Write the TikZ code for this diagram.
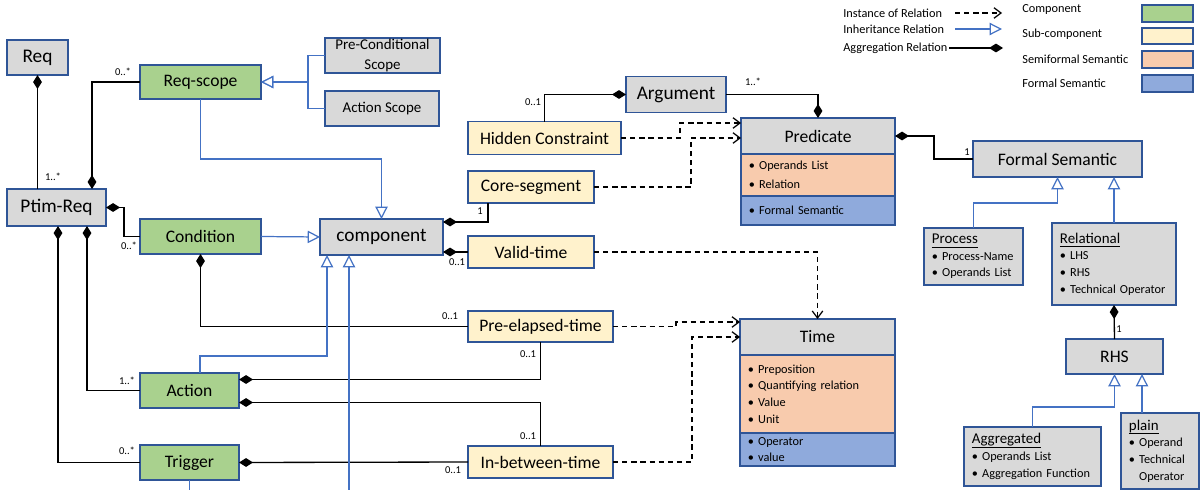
\documentclass[tikz,border=0pt]{standalone}
\usepackage{fontspec}
\setmainfont{Carlito}
\usetikzlibrary{arrows.meta,positioning,calc}
\definecolor{compgreen}{HTML}{A9D18E}
\definecolor{subyellow}{HTML}{FFF2CC}
\definecolor{semiorange}{HTML}{F8CBAD}
\definecolor{formblue}{HTML}{8FAADC}
\definecolor{boxgray}{HTML}{D9D9D9}
\definecolor{edgeblue}{HTML}{2F5597}
\definecolor{inhblue}{HTML}{4472C4}
\tikzset{
  wh/.style 2 args={minimum width=#1*0.02cm,minimum height=#2*0.02cm},
  lw/.style={text width=#1*0.02cm-9pt},
  box/.style={draw=edgeblue,line width=0.9pt,inner sep=2pt,outer sep=0pt,
    font=\fontsize{10}{12}\selectfont},
  comp/.style={box,fill=compgreen},
  sub/.style={box,fill=subyellow},
  gbox/.style={box,fill=boxgray},
  big/.style={font=\fontsize{11}{13}\selectfont},
  lst/.style={align=left,inner xsep=4.5pt,inner ysep=1pt,font=\fontsize{7}{9.5}\selectfont},
  semi/.style={box,fill=semiorange,lst},
  formal/.style={box,fill=formblue,lst},
  hd/.style={font=\fontsize{8.5}{10}\selectfont},
  mult/.style={font=\fontsize{6}{7}\selectfont,inner sep=0pt},
  legtxt/.style={font=\fontsize{7}{8}\selectfont,anchor=west,inner sep=0pt},
  agg/.style={draw,line width=0.75pt,{Diamond[length=8pt,width=5pt]}-},
  inh/.style={draw=inhblue,line width=0.7pt,-{Triangle[open,length=7pt,width=7pt,fill=white]}},
  inhline/.style={draw=inhblue,line width=0.7pt},
  inst/.style={draw,line width=0.7pt,dash pattern=on 3pt off 2.2pt,
    -{Straight Barb[length=4pt,width=6pt]}},
}
% underlined class header, rule at a fixed depth
\newsavebox{\hdrbox}
\newcommand{\hdr}[1]{\sbox{\hdrbox}{\fontsize{8.5}{10}\selectfont #1}%
  \rlap{\rule[-2.2pt]{\wd\hdrbox}{0.5pt}}\usebox{\hdrbox}}
\begin{document}
\begin{tikzpicture}[x=0.02cm,y=-0.02cm]
  \useasboundingbox (0,0) rectangle (1200,490);
  % legend
  \node[legtxt] (lg-inst) at (843,13) {Instance of Relation};
  \node[legtxt] (lg-inh) at (843,29) {Inheritance Relation};
  \node[legtxt] (lg-agg) at (843,48) {Aggregation Relation};
  \draw[inst] (955,13) -- (1002,13);
  \draw[inh] (955,29) -- (1002,29);
  \draw[agg] (1003,48) -- (949,48);
  \node[legtxt] (lg-c) at (1022,10) {Component};
  \node[legtxt] (lg-s) at (1022,34) {Sub-component};
  \node[legtxt] (lg-sf) at (1022,59) {Semiformal Semantic};
  \node[legtxt] (lg-f) at (1022,83) {Formal Semantic};
  \node[comp,wh={51}{17}] (sw-c) at (1167.5,13.5) {};
  \node[sub,wh={51}{16}] (sw-s) at (1167.5,36) {};
  \node[semi,wh={51}{17}] (sw-sf) at (1167.5,59.5) {};
  \node[formal,wh={51}{17}] (sw-f) at (1167.5,83.5) {};

  % requirement side
  \node[gbox,big,wh={61}{35}] (req) at (37.5,57.5) {Req};
  \node[gbox,big,wh={99}{37}] (ptim) at (56.5,207.5) {Ptim-Req};
  \node[comp,wh={121}{34}] (reqscope) at (200.5,82) {Req-scope};
  \node[gbox,hd,wh={115}{35},align=center,inner ysep=0pt,
    font=\fontsize{8.5}{11}\selectfont] (precond) at (382.5,55.5) {Pre-Conditional\\Scope};
  \node[gbox,wh={114}{35},font=\fontsize{8.5}{10}\selectfont] (actscope) at (382,108.5) {Action Scope};
  \node[comp,wh={121}{35}] (cond) at (200.5,236.5) {Condition};
  \node[gbox,big,wh={123}{36}] (component) at (381.5,237) {component};
  \node[comp,wh={99}{35}] (action) at (189.5,390.5) {Action};
  \node[comp,wh={99}{35}] (trigger) at (189.5,462.5) {Trigger};

  % sub-components
  \node[gbox,big,wh={100}{36}] (argument) at (676,94.5) {Argument};
  \node[sub,wh={153}{33}] (hidden) at (544.5,138) {Hidden Constraint};
  \node[sub,wh={126}{32}] (core) at (531,187) {Core-segment};
  \node[sub,wh={126}{32}] (valid) at (531,252) {Valid-time};
  \node[sub,wh={145}{31}] (preel) at (540.5,326.5) {Pre-elapsed-time};
  \node[sub,wh={145}{32}] (inbt) at (540.5,462) {In-between-time};

  % predicate and time classes
  \node[gbox,wh={154}{36}] (pred) at (818,136) {Predicate};
  \node[semi,wh={154}{42},lw=154,below=0pt of pred] (pred-s)
    {\textbullet\ Operands List\\[1.6pt] \textbullet\ Relation};
  \node[formal,wh={154}{29},lw=154,below=0pt of pred-s] (pred-f)
    {\textbullet\ Formal Semantic};
  \node[gbox,wh={155}{36}] (time) at (817.5,337) {Time};
  \node[semi,wh={155}{78},lw=155,below=0pt of time] (time-s)
    {\textbullet\ Preposition\\ \textbullet\ Quantifying relation\\ \textbullet\ Value\\ \textbullet\ Unit};
  \node[formal,wh={155}{33},lw=155,below=0pt of time-s,font=\fontsize{7}{9}\selectfont] (time-f)
    {\textbullet\ Operator\\ \textbullet\ value};

  % formal semantic tree
  \node[gbox,wh={169}{36}] (fsem) at (1057.5,159) {Formal Semantic};
  \node[gbox,lst,wh={99}{57},lw=99] (process) at (973.5,256.5)
    {\hdr{Process}\\ \textbullet\ Process-Name\\ \textbullet\ Operands List};
  \node[gbox,lst,wh={124}{82},lw=124] (relational) at (1114,264)
    {\hdr{Relational}\\ \textbullet\ LHS\\ \textbullet\ RHS\\ \textbullet\ Technical Operator};
  \node[gbox,wh={97}{35}] (rhs) at (1114.5,356.5) {RHS};
  \node[gbox,lst,wh={137}{59},lw=137] (aggregated) at (1032.5,456.5)
    {\hdr{Aggregated}\\ \textbullet\ Operands List\\ \textbullet\ Aggregation Function};
  \node[gbox,lst,wh={78}{76},lw=78] (plain) at (1160,451)
    {\hdr{plain}\\ \textbullet\ Operand\\ \textbullet\ Technical\\ \phantom{\textbullet\ }Operator};

  % aggregation
  \draw[agg] (req.south) -- (req.south |- ptim.north);
  \draw[agg] ($(ptim.north)+(35.5,0)$) |- (reqscope.west);
  \draw[agg] (ptim.east) -- ++(18,0) |- (cond.west);
  \draw[agg] ($(ptim.south)+(30.5,0)$) |- (action.west);
  \draw[agg] ($(ptim.south)+(1.5,0)$) |- (trigger.west);
  \draw[agg] (cond.south) |- (preel.west);
  \draw[agg] ($(action.east)+(0,-11)$) -| (preel.south);
  \draw[agg] ($(action.east)+(0,12)$) -| (inbt.north);
  \draw[agg] (trigger.east) -- (inbt.west);
  \draw[agg] ($(component.east)+(0,-15)$) -| ($(core.south)+(-43,0)$);
  \draw[agg] (component.east |- valid.west) -- (valid.west);
  \draw[agg] (argument.west) -| (hidden.north);
  \draw[agg] (pred.north) |- (argument.east);
  \draw[agg] (pred.east) -- ++(39,0) |- (fsem.west);
  \draw[agg] (relational.south) -- (rhs.north);

  % inheritance
  \draw[inh] (precond.west) -- ++(-17,0) |- (reqscope.east);
  \draw[inh] (actscope.west) -- ++(-17,0) |- (reqscope.east);
  \draw[inh] (reqscope.south) -- ++(0,60) -| (component.north);
  \draw[inh] (cond.east) -- (component.west);
  \draw[inh] ($(action.north)+(10.5,0)$) -- ++(0,-17) -| ($(component.south)+(-54.5,0)$);
  \draw[inh] ($(component.south)+(-32.5,235)$) -- ++(0,-235);
  \draw[inhline] (trigger.south) -- ++(0,10);
  \draw[inh] (process.north) -- ++(0,-25) -| (fsem.south);
  \draw[inh] (relational.north) -- (relational.north |- fsem.south);
  \draw[inh] (aggregated.north) -- ++(0,-20) -| (rhs.south);
  \draw[inh] ($(plain.north)+(-18,0)$) coordinate (pl) -- (pl |- rhs.south);

  % instance of
  \draw[inst] (hidden.east) -- ++(59,0) |- ($(pred.west)+(0,-13)$);
  \draw[inst] (core.east) -- ++(97,0) |- ($(pred.west)+(0,2)$);
  \draw[inst] (valid.east) -| (time.north);
  \draw[inst] (preel.east) -- ++(63,0) |- ($(time.west)+(0,-15)$);
  \draw[inst] (inbt.east) -- ++(79,0) |- (time.west);

  % multiplicities
  \node[mult] (m-ptim) at (53,177) {1..*};
  \node[mult] (m-scope) at (123,72) {0..*};
  \node[mult] (m-cond) at (129,246) {0..*};
  \node[mult] (m-act) at (127,381) {1..*};
  \node[mult] (m-trig) at (127,451) {0..*};
  \node[mult] (m-pre1) at (450,316) {0..1};
  \node[mult] (m-valid) at (457,262) {0..1};
  \node[mult] (m-inb1) at (453,470) {0..1};
  \node[mult] (m-pre2) at (528,354) {0..1};
  \node[mult] (m-inb2) at (528,436) {0..1};
  \node[mult] (m-core) at (480,211) {1};
  \node[mult] (m-hid) at (533,102) {0..1};
  \node[mult] (m-arg) at (753,82) {1..*};
  \node[mult] (m-fsem) at (967,152) {1};
  \node[mult] (m-rhs) at (1119,329) {1};
\end{tikzpicture}
\end{document}
